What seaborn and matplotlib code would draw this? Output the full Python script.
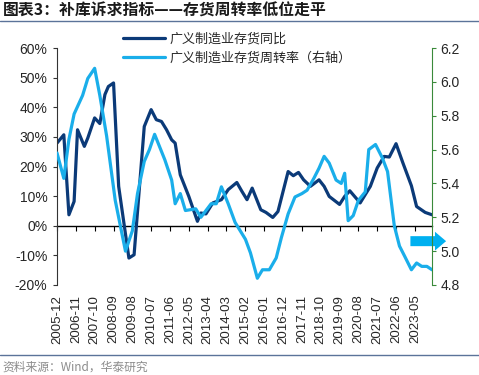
import pandas as pd
import numpy as np
import seaborn as sns
import matplotlib.pyplot as plt
import matplotlib.ticker as mticker

# 广义制造业存货同比 (左轴, %)
yoy_dates = ['2005-12', '2006-04', '2006-07', '2006-10', '2006-12', '2007-04', '2007-06',
             '2007-10', '2008-01', '2008-04', '2008-06', '2008-09', '2008-12', '2009-06',
             '2009-09', '2010-03', '2010-07', '2010-10', '2011-01', '2011-04', '2011-07',
             '2011-09', '2011-12', '2012-05', '2012-10', '2012-12', '2013-03', '2013-07',
             '2013-12', '2014-04', '2014-09', '2014-12', '2015-03', '2015-06', '2015-11',
             '2016-02', '2016-06', '2016-09', '2017-03', '2017-06', '2017-09', '2017-12',
             '2018-04', '2018-09', '2018-12', '2019-03', '2019-09', '2019-12', '2020-03',
             '2020-09', '2021-03', '2021-07', '2021-11', '2022-02', '2022-06', '2022-10',
             '2023-03', '2023-06', '2023-11', '2024-03']
yoy_vals = [27.9, 30.7, 3.7, 8.2, 32.4, 26.8, 29.6,
            36.4, 34.5, 44.3, 47.0, 48.2, 13.3, -10.9,
            -9.8, 33.5, 39.2, 35.8, 35.2, 32.4, 29.0,
            27.9, 17.2, 9.9, 1.5, 4.3, 4.0, 7.7,
            8.8, 12.2, 14.6, 11.6, 8.8, 12.7, 5.4,
            4.5, 2.8, 4.8, 18.3, 16.9, 18.0, 15.5,
            13.3, 15.5, 13.3, 9.9, 7.2, 9.9, 11.8,
            7.7, 13.3, 19.5, 23.4, 23.2, 27.7, 21.2,
            13.5, 6.5, 4.5, 3.7]

# 广义制造业存货周转率 (右轴)
turn_dates = ['2005-12', '2006-04', '2006-07', '2006-10', '2007-03', '2007-06', '2007-10',
              '2008-01', '2008-05', '2008-10', '2009-04', '2009-08', '2009-11', '2010-03',
              '2010-06', '2010-09', '2011-03', '2011-07', '2011-09', '2011-12', '2012-03',
              '2012-09', '2012-12', '2013-06', '2013-09', '2013-12', '2014-04', '2014-08',
              '2015-02', '2015-05', '2015-09', '2015-12', '2016-04', '2016-08', '2016-11',
              '2017-03', '2017-07', '2017-11', '2018-02', '2018-06', '2018-09', '2018-12',
              '2019-03', '2019-07', '2019-10', '2019-12', '2020-02', '2020-05', '2020-08',
              '2020-12', '2021-02', '2021-06', '2021-10', '2022-01', '2022-05', '2022-08',
              '2022-11', '2023-03', '2023-06', '2023-09', '2023-12', '2024-03']
turn_vals = [5.58, 5.43, 5.66, 5.81, 5.92, 6.02, 6.08,
             5.92, 5.68, 5.30, 5.00, 5.12, 5.34, 5.53,
             5.60, 5.69, 5.54, 5.42, 5.28, 5.34, 5.24,
             5.25, 5.20, 5.28, 5.28, 5.38, 5.28, 5.17,
             5.07, 4.99, 4.84, 4.89, 4.89, 4.96, 5.08,
             5.22, 5.32, 5.34, 5.36, 5.43, 5.49, 5.56,
             5.52, 5.42, 5.40, 5.46, 5.18, 5.21, 5.30,
             5.35, 5.60, 5.63, 5.55, 5.47, 5.15, 5.03,
             4.97, 4.89, 4.93, 4.91, 4.91, 4.89]

yoy = pd.DataFrame({'date': pd.to_datetime(yoy_dates), 'val': yoy_vals})
turn = pd.DataFrame({'date': pd.to_datetime(turn_dates), 'val': turn_vals})

label_yoy = '广义制造业存货同比'
label_turn = '广义制造业存货周转率（右轴）'
dark = '#0b3a78'
light = '#1aaeea'

sns.set_style('ticks')
plt.rcParams['font.family'] = ['Liberation Sans', 'Noto Sans CJK SC', 'DejaVu Sans']

fig = plt.figure(figsize=(4.79, 3.75), dpi=100)
ax = fig.add_axes([57/479, 1-285/375, 375/479, 237/375])
ax2 = ax.twinx()

sns.lineplot(data=yoy, x='date', y='val', ax=ax, color=dark, lw=2.3, label=label_yoy, legend=False)
sns.lineplot(data=turn, x='date', y='val', ax=ax2, color=light, lw=2.3, label=label_turn, legend=False)

ax.set_ylim(-20, 60)
ax.set_yticks(np.arange(-20, 61, 10))
ax.yaxis.set_major_formatter(mticker.FuncFormatter(lambda v, p: f'{v:.0f}%'))
ax2.set_ylim(4.8, 6.2)
ax2.set_yticks(np.arange(4.8, 6.21, 0.2))
ax2.yaxis.set_major_formatter(mticker.FormatStrFormatter('%.1f'))

xticks = pd.date_range('2005-12-01', periods=20, freq='11MS')
ax.set_xlim(pd.Timestamp('2005-12-01'), pd.Timestamp('2024-03-01'))
ax.set_xticks(xticks)
ax.set_xticklabels([d.strftime('%Y-%m') for d in xticks], rotation=90)
ax.tick_params(axis='x', length=0, pad=7, labelsize=9.5)
ax.tick_params(axis='y', length=3, pad=4, labelsize=10, direction='out', color='#333333')
ax2.tick_params(axis='y', length=3, pad=3, labelsize=10, direction='out', color='#3a8a3a')
ax.set_xlabel('')
ax.set_ylabel('')
ax2.set_ylabel('')

for a in (ax, ax2):
    a.spines['top'].set_visible(False)
    a.spines['bottom'].set_visible(False)
ax.spines['right'].set_visible(False)
ax2.spines['left'].set_visible(False)
ax.spines['left'].set_color('#333333')
ax2.spines['right'].set_color('#3a8a3a')

# zero line with tick marks
sec = ax.secondary_xaxis(0.25)
sec.set_xticks(xticks)
sec.tick_params(axis='x', length=3.5, direction='out', labelbottom=False, labeltop=False, color='black')
sec.spines['bottom'].set_color('black')
sec.spines['bottom'].set_linewidth(1.0)

# arrow
ax.annotate('', xy=(1.045, 0.185), xytext=(0.935, 0.185), xycoords='axes fraction',
            arrowprops=dict(arrowstyle='simple,head_length=0.8,head_width=1.35,tail_width=0.72',
                            color='#00b0f0', lw=0), annotation_clip=False, zorder=10)

h1, l1 = ax.get_legend_handles_labels()
h2, l2 = ax2.get_legend_handles_labels()
fig.legend(h1 + h2, l1 + l2, loc='upper left', bbox_to_anchor=(123/479, 1-33/375),
           frameon=False, handlelength=3.2, borderpad=0, borderaxespad=0,
           labelspacing=0.42, handletextpad=0.4, prop={'family': 'Noto Sans CJK SC', 'size': 9.4})

fig.text(3/479, 1-11/375, '图表3：补库诉求指标——存货周转率低位走平', fontsize=11.4, fontweight='bold',
         family=['Noto Sans CJK SC'], va='center', ha='left', color='#1a1a1a')
fig.add_artist(plt.Line2D([0, 1], [1-21/375, 1-21/375], color='#5b7399', lw=1.0))
fig.add_artist(plt.Line2D([0, 1], [1-355/375, 1-355/375], color='#5b7399', lw=1.0))
fig.text(2/479, 1-367/375, '资料来源：Wind，华泰研究', fontsize=8.5, family=['Noto Sans CJK SC'],
         va='center', ha='left', color='#8c8c8c')

plt.savefig('out.png', dpi=100)
